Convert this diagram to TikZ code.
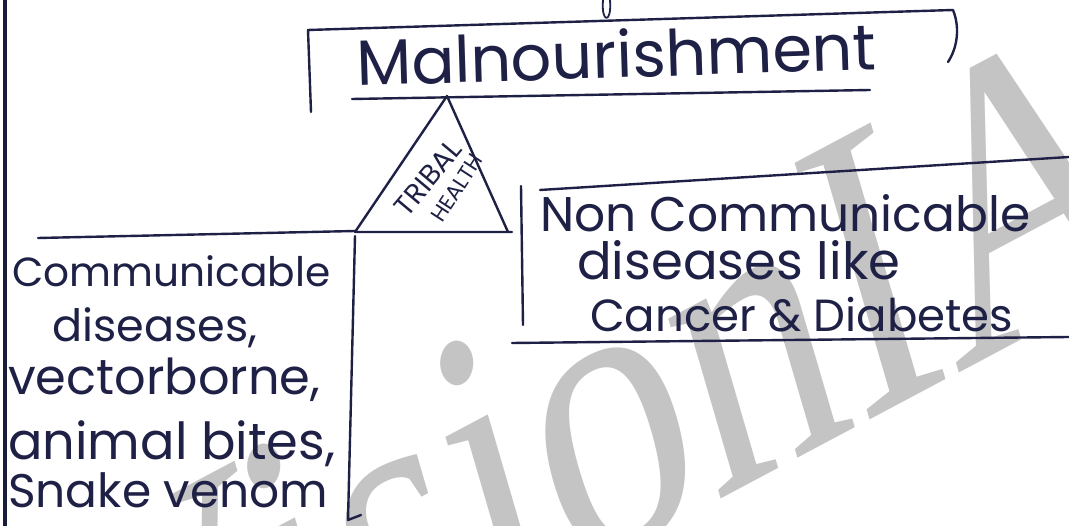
\documentclass[tikz,border=0pt]{standalone}
\usepackage{fontspec}
\setmainfont{Liberation Serif}
\newfontfamily\handfont{Poppins}
\newfontfamily\markfont{Liberation Serif}
\usepackage{graphicx}
\definecolor{ink}{HTML}{1E2145}
\definecolor{mark}{HTML}{C4C4C4}
\newcommand{\fitw}[2]{\resizebox{#1pt}{!}{#2}}
\begin{document}
\begin{tikzpicture}[x=1pt,y=-1pt,
  inkline/.style={draw=ink,line width=2.4pt,line cap=round,line join=round},
  hw/.style={inner sep=0pt,anchor=base west,text=ink,font=\handfont},
  tag/.style={inner sep=0pt,anchor=center,text=ink,font=\handfont}]
  \useasboundingbox (0,0) rectangle (1069,526);
  \fill[white] (0,0) rectangle (1069,526);

  % background stamp: rotated, then stretched upwards
  \begin{scope}
    \clip (0,0) rectangle (1069,526);
    \begin{scope}[shift={(103,828)},yscale=1.35]
      \node[transform shape,inner sep=0pt,anchor=base west,rotate=21.5,text=mark,
        font=\markfont\fontsize{312}{312}\selectfont] (stamp) at (0,0) {VisionIAS};
    \end{scope}
  \end{scope}

  % margin rule
  \coordinate (m1) at (5,0);
  \coordinate (m2) at (5,526);
  \draw[draw=ink!85!black,line width=3.2pt] (m1) -- (m2);

  % connector loop from above
  \coordinate (c1) at (603,0);
  \coordinate (c2) at (610,0);
  \draw[inkline,line width=1.8pt] (c1) .. controls (601,24) and (612,24) .. (c2);

  % bracket round the title
  \coordinate (b1) at (311,112);
  \coordinate (b2) at (308,30);
  \coordinate (b3) at (953,10);
  \coordinate (b4) at (948,62);
  \draw[inkline] (b1) -- (b2) -- (b3) .. controls (961,30) and (956,50) .. (b4);

  % title
  \node[hw,rotate=1.8] (title) at (357,86) {\fitw{520}{Malnourishment}};
  \coordinate (u1) at (352,99);
  \coordinate (u2) at (870,90);
  \draw[inkline] (u1) -- (u2);

  % triangle
  \coordinate (apex) at (447,96);
  \coordinate (tl) at (355,232);
  \coordinate (tr) at (508,232);
  \coordinate (tre) at (512,232);
  \draw[inkline] (apex) -- (tl) -- (tre);
  \draw[inkline] (apex) -- (tr);
  \node[tag,rotate=50] (tribal) at (428,178) {\fitw{88}{TRIBAL}};
  \node[tag,rotate=57] (health) at (457,188) {\fitw{76}{HEALTH}};

  % left branch
  \coordinate (l1) at (38,238);
  \coordinate (l2) at (355,231);
  \coordinate (lv1) at (355,236);
  \coordinate (lv2) at (348,520);
  \coordinate (lv3) at (361,515);
  \draw[inkline] (l1) -- (l2);
  \draw[inkline] (lv1) -- (lv2) -- (lv3);
  \node[hw] (c-a) at (12,287) {\fitw{318}{Communicable}};
  \node[hw] (c-b) at (52,342) {\fitw{205}{diseases,}};
  \node[hw] (c-c) at (8,395) {\fitw{312}{vectorborne,}};
  \node[hw] (c-d) at (8,460) {\fitw{327}{animal bites,}};
  \node[hw] (c-e) at (8,508) {\fitw{320}{Snake venom}};

  % right branch
  \coordinate (r1) at (521,186);
  \coordinate (r2) at (523,325);
  \coordinate (rt1) at (540,190);
  \coordinate (rt2) at (1069,157);
  \coordinate (rb1) at (512,343);
  \coordinate (rb2) at (1069,337);
  \draw[inkline] (r1) -- (r2);
  \draw[inkline] (rt1) -- (rt2);
  \draw[inkline] (rb1) -- (rb2);
  \node[hw] (n-a) at (540,232) {\fitw{490}{Non Communicable}};
  \node[hw] (n-b) at (577,280) {\fitw{323}{diseases like}};
  \node[hw] (n-c) at (590,332) {\fitw{423}{Cancer \& Diabetes}};
\end{tikzpicture}
\end{document}
